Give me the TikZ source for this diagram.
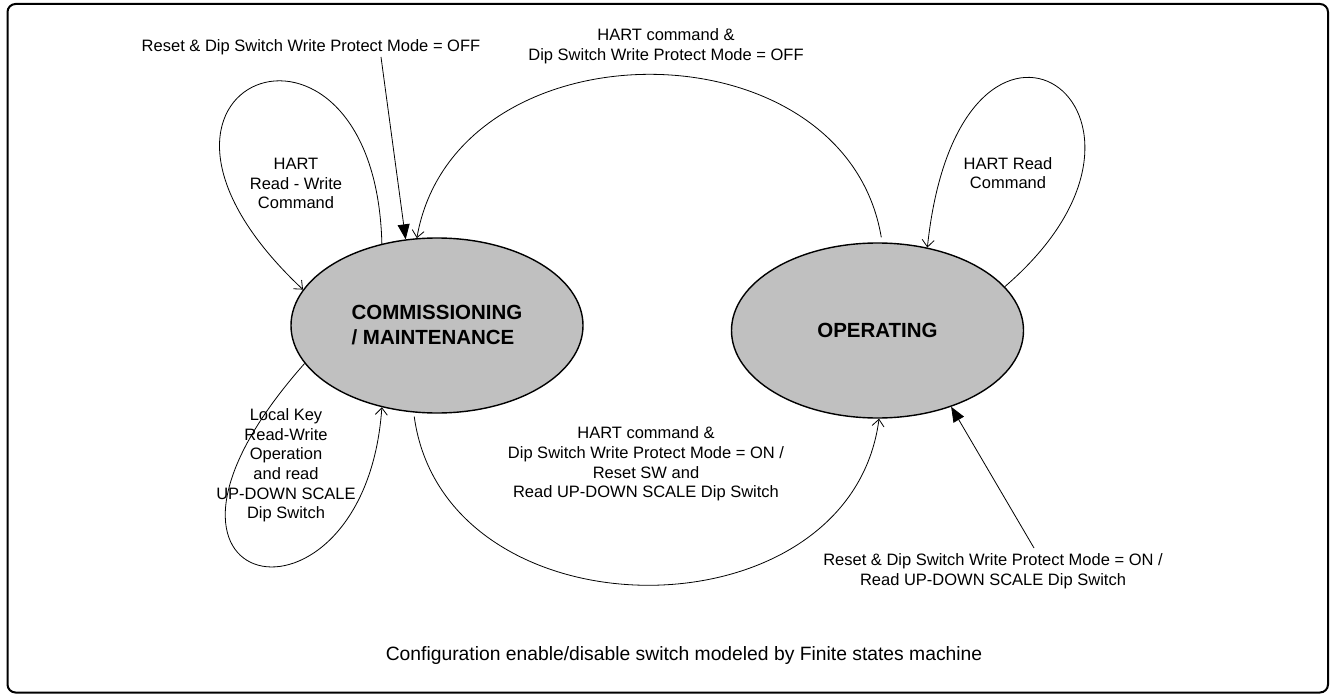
\documentclass[tikz,border=0pt]{standalone}
\usepackage{fontspec}
\setmainfont{Liberation Sans}
\usetikzlibrary{shapes.geometric,arrows.meta}
\definecolor{stategray}{RGB}{192,192,192}

\begin{document}
\begin{tikzpicture}[x=1pt,y=-1pt,
	state/.style={draw,ellipse,fill=stategray,line width=1.4pt,minimum width=292pt,minimum height=175pt,inner sep=0pt,font=\fontsize{20.5}{25}\selectfont\bfseries},
	lbl/.style={align=center,inner sep=0pt,font=\fontsize{16.5}{19.6}\selectfont},
	tr/.style={-{Straight Barb[length=7pt,width=12pt]},line width=0.8pt},
	rst/.style={-{Triangle[length=15pt,width=12pt]},line width=0.8pt}]
		
		\draw[line width=2pt,rounded corners=8pt] (7.5,4) rectangle (1328,692.5);
		
		\node[state,align=left] (comm) at (437,325.5) {COMMISSIONING\\/ MAINTENANCE};
		\node[state] (oper) at (877.5,330.5) {OPERATING};
		
		\node[lbl] (lRst) at (311,47) {Reset \& Dip Switch Write Protect Mode = OFF};
		\node[lbl] (lOff) at (666,46.5) {HART command \&\\Dip Switch Write Protect Mode = OFF};
		\node[lbl] (lRW) at (296,183.5) {HART\\Read - Write\\Command};
		\node[lbl] (lRd) at (1008,173) {HART Read\\Command};
		\node[lbl] (lKey) at (286,465.5) {Local Key\\Read-Write\\Operation\\and read\\UP-DOWN SCALE\\Dip Switch};
		\node[lbl] (lOn) at (646,464) {HART command \&\\Dip Switch Write Protect Mode = ON /\\Reset SW and\\Read UP-DOWN SCALE Dip Switch};
		\node[lbl] (lRstOn) at (993,571) {Reset \& Dip Switch Write Protect Mode = ON /\\Read UP-DOWN SCALE Dip Switch};
		\node[lbl,font=\fontsize{19.3}{22}\selectfont] (caption) at (684,656) {Configuration enable/disable switch modeled by Finite states machine};
		
		\coordinate (rOff) at (381,57);
		\coordinate (rOn) at (1034,548);
		
		\draw[rst] (rOff) -- (comm.110);
		\draw[rst] (rOn) -- (oper.-46);
		
		\draw[tr,shorten <=5pt] (oper.87) .. controls (845,20) and (455,20) .. (comm.103);
		\draw[tr,shorten <=4pt] (comm.255) .. controls (445,641) and (850,641) .. (oper.271);
		\draw[tr] (comm.124) .. controls (375,-30) and (80,80) .. (comm.165);
		\draw[tr] (comm.196) .. controls (95,600) and (365,650) .. (comm.236);
		\draw[tr] (oper.19) .. controls (1210,110) and (960,-60) .. (oper.59);
		
		\pgfresetboundingbox
		\useasboundingbox (0,0) rectangle (1330,695);
		
	\end{tikzpicture}
\end{document}
